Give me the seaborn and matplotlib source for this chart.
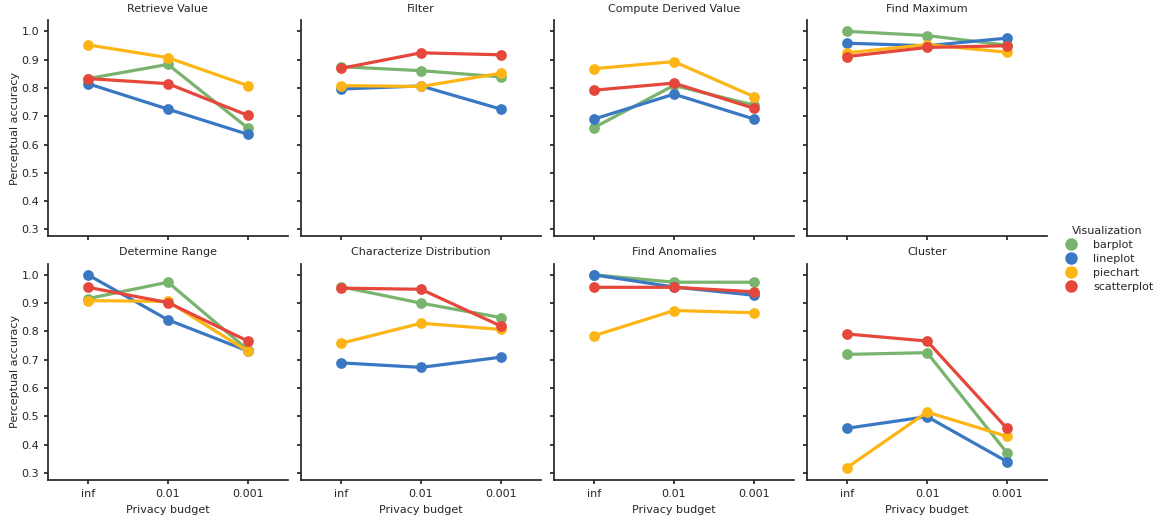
import numpy as np
import pandas as pd
import seaborn as sns
import matplotlib
matplotlib.use("Agg")
import matplotlib.pyplot as plt
from matplotlib.lines import Line2D
from matplotlib.ticker import FormatStrFormatter, FixedLocator

tasks = ["Retrieve Value", "Filter", "Compute Derived Value", "Find Maximum",
         "Determine Range", "Characterize Distribution", "Find Anomalies", "Cluster"]
budgets = ["inf", "0.01", "0.001"]
vis_types = ["barplot", "lineplot", "piechart", "scatterplot"]

barplot = [[0.833, 0.883, 0.658], [0.875, 0.861, 0.839], [0.660, 0.809, 0.739], [1.000, 0.985, 0.951],
           [0.916, 0.974, 0.735], [0.958, 0.900, 0.849], [1.000, 0.974, 0.974], [0.719, 0.725, 0.371]]
lineplot = [[0.815, 0.725, 0.636], [0.796, 0.807, 0.725], [0.690, 0.778, 0.690], [0.958, 0.949, 0.976],
            [1.000, 0.841, 0.731], [0.689, 0.673, 0.709], [1.000, 0.957, 0.928], [0.458, 0.499, 0.340]]
piechart = [[0.952, 0.907, 0.808], [0.808, 0.805, 0.852], [0.868, 0.893, 0.769], [0.924, 0.953, 0.926],
            [0.909, 0.906, 0.730], [0.758, 0.829, 0.807], [0.785, 0.874, 0.866], [0.319, 0.515, 0.429]]
scatterplot = [[0.833, 0.815, 0.703], [0.869, 0.924, 0.917], [0.792, 0.817, 0.728], [0.911, 0.943, 0.949],
               [0.956, 0.902, 0.766], [0.953, 0.949, 0.819], [0.956, 0.956, 0.940], [0.791, 0.766, 0.457]]
yticks = [0.3, 0.4, 0.5, 0.6, 0.7, 0.8, 0.9, 1.0]

colors = ["#78b46e", "#3a78c4", "#fdb515", "#e5473b"]

series = {"barplot": barplot, "lineplot": lineplot, "piechart": piechart, "scatterplot": scatterplot}
rows = []
for v in vis_types:
    for ti, t in enumerate(tasks):
        for bi, b in enumerate(budgets):
            rows.append({"Task": t, "Privacy budget": b, "Visualization": v,
                         "Perceptual accuracy": series[v][ti][bi]})
df = pd.DataFrame(rows)

sns.set_theme(style="ticks")
plt.rcParams["font.family"] = ["DejaVu Sans"]
plt.rcParams["font.size"] = 8

g = sns.catplot(data=df, x="Privacy budget", y="Perceptual accuracy", hue="Visualization",
                col="Task", col_wrap=4, kind="point", order=budgets, hue_order=vis_types,
                col_order=tasks, palette=colors, legend=False, errorbar=None,
                height=2.2, aspect=1.1, sharey=True, markersize=6, linewidth=2.3)
g.figure.set_size_inches(11.56, 5.18)
g.set_titles("{col_name}", size=8)
for i, ax in enumerate(g.axes.flat):
    ax.set_ylim(0.275, 1.04)
    ax.set_xlim(-0.5, 2.5)
    ax.yaxis.set_major_locator(FixedLocator(yticks))
    ax.yaxis.set_major_formatter(FormatStrFormatter("%.1f"))
    ax.yaxis.set_minor_locator(FixedLocator([]))
    ax.tick_params(labelsize=8, length=3)
    ax.xaxis.label.set_size(8)
    ax.yaxis.label.set_size(8)
    ax.yaxis.labelpad = 1
    if i % 4 != 0:
        ax.tick_params(axis="y", labelleft=False)
        ax.set_ylabel("")
    if i < 4:
        ax.tick_params(axis="x", labelbottom=False)
        ax.set_xlabel("")

g.figure.subplots_adjust(left=48/1156, right=1047/1156, top=1-20/518, bottom=1-480/518,
                         wspace=0.055, hspace=0.125)

handles = [Line2D([0], [0], marker="o", linestyle="", color=c, markersize=8) for c in colors]
g.figure.legend(handles, vis_types, title="Visualization", loc="center left",
                bbox_to_anchor=(1050/1156, 0.5), frameon=False, fontsize=8, title_fontsize=8,
                handletextpad=1.0, labelspacing=0.35)

g.figure.savefig("out.png", dpi=100)
